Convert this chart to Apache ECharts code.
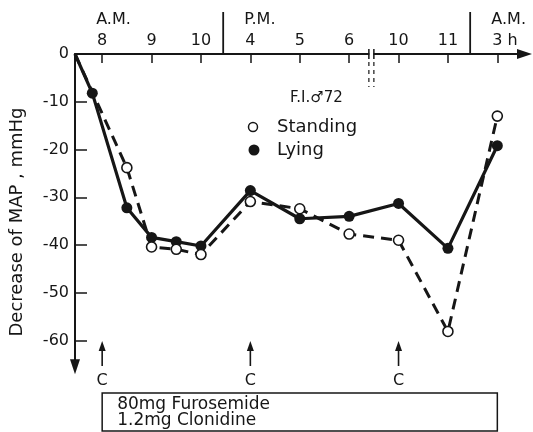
<!DOCTYPE html>
<html>
<head>
<meta charset="utf-8">
<script src="https://cdn.jsdelivr.net/npm/echarts@6/dist/echarts.min.js"></script>
<style>
  html, body { margin: 0; padding: 0; background: #fff; }
  #chart { width: 533px; height: 432px; }
</style>
</head>
<body>
<div id="chart"></div>
<script>
// Hour slots along the time axis (evenly spaced, with a break between 6 and 10 P.M.)
const hourLabels = ['8', '9', '10', '4', '5', '6', '10', '11', '3 h'];
const periodLabels = ['A.M.', 'P.M.', 'A.M.'];
const periodStartSlots = [0, 3, 8];
const periodDividerSlots = [2.45, 7.45];
const axisBreakSlot = 5.45;
const startSlot = -0.55;
const endSlot = 8.55;
const yTicks = [0, -10, -20, -30, -40, -50, -60];

// Fall in mean arterial pressure, mmHg
const standingSlots = [startSlot, 0.5, 1, 1.5, 2, 3, 4, 5, 6, 7, 8];
const standingMAP   = [0, -23.8, -40.4, -40.9, -42, -30.9, -32.4, -37.7, -39, -58.1, -13];
const lyingSlots    = [startSlot, -0.2, 0.5, 1, 1.5, 2, 3, 4, 5, 6, 7, 8];
const lyingMAP      = [0, -8.2, -32.2, -38.4, -39.3, -40.2, -28.6, -34.5, -34, -31.3, -40.7, -19.2];

// Clonidine doses and the treatment note
const doseSlots = [0, 3, 6];
const doseLabel = 'C';
const regimen = ['80mg Furosemide', '1.2mg Clonidine'];
const patientLabel = 'F.I.\u264272';
const yTitle = 'Decrease of MAP , mmHg';
const legendNames = ['Standing', 'Lying'];

const FONT = 'DejaVu Sans';
const INK = '#161616';

// The curves start at the axis origin without a marker
function toPoints(xs, ys) {
  return xs.map((x, i) => i === 0 ? { value: [x, ys[i]], symbol: 'none' } : [x, ys[i]]);
}

const slotIdx = hourLabels.map((_, i) => i);

const chart = echarts.init(document.getElementById('chart'), null, { renderer: 'canvas' });

chart.setOption({
  backgroundColor: '#fff',
  animation: false,
  grid: { left: 75, top: 54, width: 449.5, height: 312.8 },
  xAxis: {
    type: 'value',
    position: 'top',
    min: startSlot,
    max: endSlot,
    splitLine: { show: false },
    axisLine: {
      onZero: false,
      lineStyle: { color: INK, width: 2 },
      symbol: ['none', 'triangle'],
      symbolSize: [10, 15]
    },
    axisTick: {
      inside: true,
      length: 9,
      customValues: slotIdx,
      lineStyle: { color: INK, width: 1.5 }
    },
    axisLabel: {
      customValues: slotIdx,
      margin: 5,
      color: INK,
      fontFamily: FONT,
      fontSize: 16,
      formatter: function (v) {
        const i = Math.round(v);
        const t = hourLabels[i];
        return i === hourLabels.length - 1 ? '{gap|}' + t : t;
      },
      rich: { gap: { width: 15 } }
    }
  },
  yAxis: {
    type: 'value',
    min: -65.5,
    max: 0,
    splitLine: { show: false },
    axisLine: {
      onZero: false,
      lineStyle: { color: INK, width: 2 },
      symbol: ['triangle', 'none'],
      symbolSize: [10, 15]
    },
    axisTick: {
      inside: true,
      length: 12,
      customValues: yTicks,
      lineStyle: { color: INK, width: 1.5 }
    },
    axisLabel: {
      customValues: yTicks,
      margin: 6,
      color: INK,
      fontFamily: FONT,
      fontSize: 16
    }
  },
  series: [
    {
      name: legendNames[1],
      type: 'line',
      data: toPoints(lyingSlots, lyingMAP),
      symbol: 'circle',
      symbolSize: 11,
      lineStyle: { color: INK, width: 3.2 },
      itemStyle: { color: INK },
      z: 2
    },
    {
      name: legendNames[0],
      type: 'line',
      data: toPoints(standingSlots, standingMAP),
      symbol: 'circle',
      symbolSize: 10,
      lineStyle: { color: INK, width: 3, type: [11, 7] },
      itemStyle: { color: '#fff', borderColor: INK, borderWidth: 1.6 },
      z: 3
    }
  ]
});

// Annotations positioned from the x scale
const xp = (s) => chart.convertToPixel({ gridIndex: 0 }, [s, 0])[0];
const txt = (text, x, y, extra) => ({
  type: 'text', x: x, y: y,
  style: Object.assign({ text: text, fill: INK, font: '16px "' + FONT + '"', align: 'center', verticalAlign: 'middle' }, extra || {})
});
const seg = (x1, y1, x2, y2, w, dash) => ({
  type: 'line',
  shape: { x1: x1, y1: y1, x2: x2, y2: y2 },
  style: { stroke: INK, lineWidth: w || 1.5, lineDash: dash || null }
});

const g = [];

// A.M. / P.M. periods above the hour labels
periodDividerSlots.forEach(s => g.push(seg(xp(s), 12, xp(s), 54, 1.8)));
periodLabels.forEach((t, i) => g.push(txt(t, xp(periodStartSlots[i]) - 6, 20, { align: 'left' })));

// Axis break between 6 and 10 P.M.
const xb = xp(axisBreakSlot);
g.push({ type: 'rect', shape: { x: xb - 2, y: 51, width: 4, height: 6 }, style: { fill: '#fff' }, z: 100 });
g.push(Object.assign(seg(xb - 2.5, 49, xb - 2.5, 59, 1.5), { z: 101 }));
g.push(Object.assign(seg(xb + 2.5, 49, xb + 2.5, 59, 1.5), { z: 101 }));
g.push(seg(xb - 2.5, 62, xb - 2.5, 87, 1.2, [4, 4]));
g.push(seg(xb + 2.5, 62, xb + 2.5, 87, 1.2, [4, 4]));

// Dose arrows
doseSlots.forEach(s => {
  const x = xp(s);
  g.push(seg(x, 366, x, 349, 1.6));
  g.push({ type: 'polygon', shape: { points: [[x, 341], [x - 3.5, 351], [x + 3.5, 351]] }, style: { fill: INK } });
  g.push(txt(doseLabel, x, 381));
});

// Treatment box
const bx0 = xp(0), bx1 = xp(hourLabels.length - 1);
g.push({ type: 'rect', shape: { x: bx0, y: 393, width: bx1 - bx0, height: 38 }, style: { fill: 'none', stroke: INK, lineWidth: 1.5 } });
regimen.forEach((t, i) => g.push(txt(t, bx0 + 15, 405 + i * 16, { align: 'left', font: '17px "' + FONT + '"' })));

// Patient and legend
g.push(txt(patientLabel, 290, 98, { align: 'left', font: '15px "' + FONT + '"' }));
g.push({ type: 'circle', shape: { cx: 253, cy: 127, r: 4.5 }, style: { fill: '#fff', stroke: INK, lineWidth: 1.5 } });
g.push(txt(legendNames[0], 277, 127, { align: 'left', font: '18px "' + FONT + '"' }));
g.push({ type: 'circle', shape: { cx: 254, cy: 150, r: 5.5 }, style: { fill: INK } });
g.push(txt(legendNames[1], 277, 150, { align: 'left', font: '18px "' + FONT + '"' }));

// Y-axis title, reading upward
const title = txt(yTitle, 17, 222, { font: '18px "' + FONT + '"' });
title.rotation = Math.PI / 2;
g.push(title);

chart.setOption({ graphic: g });
</script>
</body>
</html>
